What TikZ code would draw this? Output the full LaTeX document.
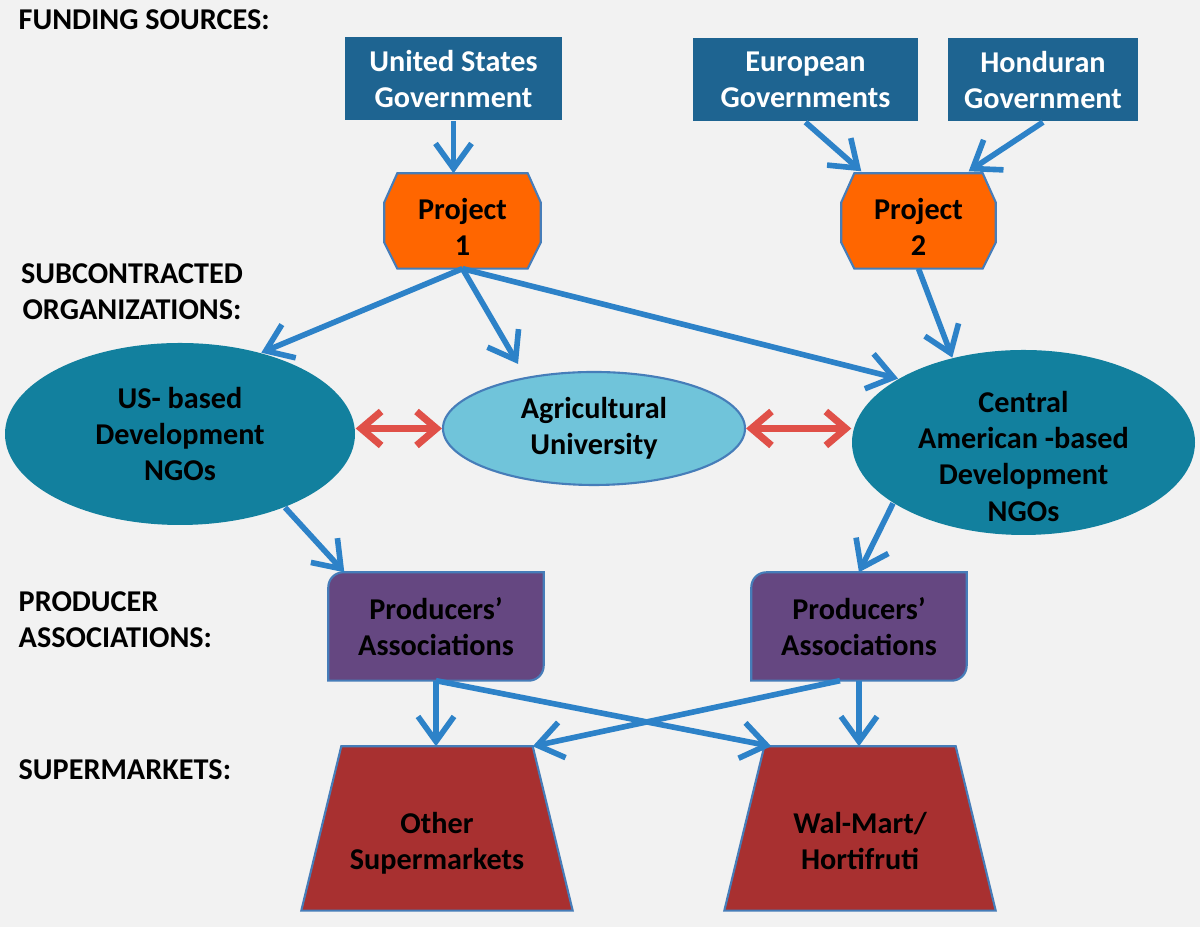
\documentclass[tikz,border=0pt]{standalone}
\usepackage{fontspec}
\setmainfont{Carlito}
\usepackage{tikz}
\usetikzlibrary{shapes,backgrounds,arrows.meta}

\definecolor{bgcol}{RGB}{242,242,242}
\definecolor{fundblue}{RGB}{30,100,145}
\definecolor{projorange}{RGB}{255,102,0}
\definecolor{ngoteal}{RGB}{18,128,158}
\definecolor{unicyan}{RGB}{112,196,218}
\definecolor{assocpurple}{RGB}{101,71,129}
\definecolor{mktred}{RGB}{168,48,48}
\definecolor{edgeblue}{RGB}{70,125,185}
\definecolor{arrowblue}{RGB}{45,130,200}
\definecolor{linkred}{RGB}{224,80,72}

\newcommand{\dropped}[2]{\raisebox{#1}[0pt][0pt]{\begin{tabular}{@{}c@{}}#2\end{tabular}}}

\begin{document}
\begin{tikzpicture}[
  font=\fontsize{8.6}{10.3}\selectfont\bfseries,
  >={Straight Barb[length=0.25cm,width=0.36cm]},
  lbl/.style={align=left,anchor=west,inner sep=0},
  fund/.style={fill=fundblue,text=white,align=center,minimum height=0.83cm,inner sep=0},
  proj/.style={align=center,minimum width=1.55cm,minimum height=0.94cm,inner sep=0},
  ngo/.style={ellipse,fill=ngoteal,align=center,inner sep=0},
  uni/.style={ellipse,fill=unicyan,draw=edgeblue,line width=0.6pt,align=center,inner sep=0,minimum width=3.02cm,minimum height=1.13cm},
  assoc/.style={align=center,minimum width=2.14cm,minimum height=1.07cm,inner sep=0},
  market/.style={align=center,minimum width=2.7cm,minimum height=1.63cm,inner sep=0},
  rim/.style={draw=edgeblue,line width=0.6pt},
  flow/.style={->,draw=arrowblue,line width=1.6pt},
  link/.style={<->,draw=linkred,line width=2pt,>={Straight Barb[length=0.2cm,width=0.34cm]}}
]
\useasboundingbox (0,0) rectangle (12,9.27);

\node[lbl] (lfund) at (0.18,9.07) {FUNDING SOURCES:};
\node[align=center,inner sep=0] (lsub) at (1.32,6.35) {SUBCONTRACTED\\ORGANIZATIONS:};
\node[lbl] (lprod) at (0.18,3.07) {PRODUCER\\ASSOCIATIONS:};
\node[lbl] (lmkt) at (0.18,1.57) {SUPERMARKETS:};

\node[fund,minimum width=2.17cm] (usg) at (4.535,8.48) {United States\\Government};
\node[fund,minimum width=2.25cm] (eur) at (8.055,8.47) {European\\Governments};
\node[fund,minimum width=1.90cm] (hon) at (10.43,8.47) {Honduran\\Government};

\node[proj] (p1) at (4.625,7.06) {\dropped{-0.17cm}{Project\\1}};
\node[proj,minimum width=1.53cm] (p2) at (9.185,7.06) {\dropped{-0.17cm}{Project\\2}};

\node[ngo,minimum width=3.5cm,minimum height=1.82cm] (usn) at (1.80,4.93) {US- based\\Development\\NGOs};
\node[uni] (agu) at (5.94,4.985) {Agricultural\\University};
\node[ngo,minimum width=3.43cm,minimum height=1.85cm] (can) at (10.235,4.845) {\dropped{-0.25cm}{Central\\American -based\\Development\\NGOs}};

\node[assoc] (pal) at (4.36,3.005) {Producers’\\Associations};
\node[assoc] (par) at (8.59,3.005) {Producers’\\Associations};

\node[market] (osm) at (4.37,0.985) {\dropped{-0.24cm}{Other\\Supermarkets}};
\node[market] (wmh) at (8.60,0.985) {\dropped{-0.24cm}{Wal-Mart/\\Hortifruti}};

\begin{scope}[on background layer]
\fill[bgcol] (0,0) rectangle (12,9.27);
\foreach \n in {p1,p2}
  \filldraw[fill=projorange,rim] ([xshift=0.13cm]\n.north west) -- ([xshift=-0.13cm]\n.north east)
    -- ([yshift=-0.29cm]\n.north east) -- ([yshift=0.26cm]\n.south east) -- ([xshift=-0.13cm]\n.south east)
    -- ([xshift=0.13cm]\n.south west) -- ([yshift=0.26cm]\n.south west) -- ([yshift=-0.29cm]\n.north west) -- cycle;
\foreach \n in {pal,par}
  \filldraw[fill=assocpurple,rim] (\n.south west) -- ([yshift=-0.15cm]\n.north west)
    arc[start angle=180,end angle=90,radius=0.15cm] -- (\n.north east) -- ([yshift=0.15cm]\n.south east)
    arc[start angle=0,end angle=-90,radius=0.15cm] -- cycle;
\foreach \n in {osm,wmh}
  \filldraw[fill=mktred,rim] (\n.south west) -- (\n.south east) -- ([xshift=-0.4cm]\n.north east)
    -- ([xshift=0.4cm]\n.north west) -- cycle;
\end{scope}

\draw[flow] (usg.south) -- (usg.south |- p1.north);
\draw[flow] (eur.south) -- ([xshift=0.2cm,yshift=0.02cm]p2.north west);
\draw[flow] (hon.south) -- ([xshift=-0.27cm,yshift=0.02cm]p2.north east);
\draw[flow] (p1.south) -- (usn.45);
\draw[flow] (p1.south) -- ([xshift=-0.76cm,yshift=0.07cm]agu.north);
\draw[flow] (p1.south) -- (can.153);
\draw[flow] (p2.south) -- (can.130);
\draw[link] (agu.west -| usn.east) -- (agu.west);
\draw[link] (agu.east) -- (agu.east -| can.west);
\draw[flow] (usn.-35) -- ([xshift=0.16cm]pal.north west);
\draw[flow] (can.205) -- (par.north);
\draw[flow] (pal.south) -- (pal.south |- osm.north);
\draw[flow] (pal.south) -- ([xshift=0.47cm]wmh.north west);
\draw[flow] ([xshift=-0.19cm]par.south) -- ([xshift=-0.4cm]osm.north east);
\draw[flow] (par.south) -- (par.south |- wmh.north);
\end{tikzpicture}
\end{document}
